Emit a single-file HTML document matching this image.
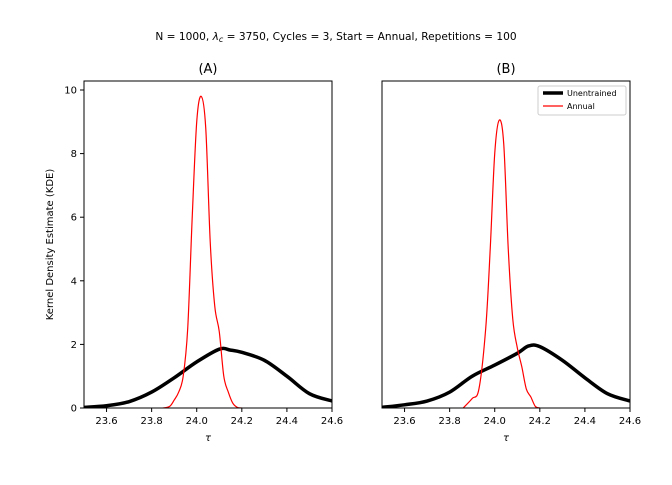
<!DOCTYPE html>
<html><head><meta charset="utf-8"><style>
body{margin:0;background:#fff;}
svg text{font-family:"DejaVu Sans","Liberation Sans",sans-serif;fill:#000;}
</style></head><body>
<svg id="chart" width="672" height="480" xmlns="http://www.w3.org/2000/svg">
<text x="336" y="40" font-size="10.6" text-anchor="middle">N = 1000, <tspan font-style="italic">λ</tspan><tspan font-size="8" dy="2" font-style="italic">c</tspan><tspan dy="-2"> = 3750, Cycles = 3, Start = Annual, Repetitions = 100</tspan></text>
<g id="plots"></g>
</svg>
<script>
const xTicks=[23.6,23.8,24.0,24.2,24.4,24.6];
const yTicks=[0,2,4,6,8,10];
const redAx=[23.85,23.88,23.9,23.92,23.94,23.96,23.98,24.0,24.02,24.04,24.06,24.08,24.1,24.12,24.14,24.16,24.18,24.2];
const redAy=[0,0.05,0.25,0.5,1.0,2.5,6.0,9.0,9.8,8.8,5.2,3.2,2.4,1.0,0.5,0.15,0.02,0];
const blkAx=[23.5,23.6,23.7,23.8,23.9,24.0,24.1,24.15,24.2,24.3,24.4,24.5,24.6];
const blkAy=[0.02,0.07,0.2,0.5,0.95,1.45,1.85,1.82,1.75,1.5,1.0,0.45,0.22];
const redBx=[23.86,23.9,23.93,23.96,23.98,24.0,24.02,24.04,24.06,24.08,24.1,24.12,24.14,24.16,24.18,24.2];
const redBy=[0,0.3,0.6,2.5,5.0,8.0,9.05,8.3,5.0,2.8,1.9,1.3,0.6,0.35,0.05,0];
const blkBx=[23.5,23.6,23.7,23.8,23.9,24.0,24.1,24.15,24.2,24.3,24.4,24.5,24.6];
const blkBy=[0.02,0.1,0.22,0.5,1.0,1.35,1.72,1.95,1.93,1.5,0.95,0.45,0.22];
const NS="http://www.w3.org/2000/svg";
const g=document.getElementById('plots');
function mk(t,a,p){const e=document.createElementNS(NS,t);for(const k in a)e.setAttribute(k,a[k]);(p||g).appendChild(e);return e;}
const topY=81,bot=408,xmin=23.5,xmax=24.6,ymax=(408-81)/31.8;
function smooth(pts){let d='M'+pts[0][0]+','+pts[0][1];for(let i=0;i<pts.length-1;i++){const p0=pts[Math.max(0,i-1)],p1=pts[i],p2=pts[i+1],p3=pts[Math.min(pts.length-1,i+2)];d+=' C'+(p1[0]+(p2[0]-p0[0])/6)+','+(p1[1]+(p2[1]-p0[1])/6)+' '+(p2[0]-(p3[0]-p1[0])/6)+','+(p2[1]-(p3[1]-p1[1])/6)+' '+p2[0]+','+p2[1];}return d;}
function panel(left,title,bx,by,rx,ry,showY,label){
  const w=248;
  const sx=v=>left+(v-xmin)/(xmax-xmin)*w;
  const sy=v=>bot-v/ymax*(bot-topY);
  const pg=mk('g',{});
  
  
  const cp=mk('clipPath',{id:'cp'+label},pg);mk('rect',{x:left,y:topY,width:w,height:bot-topY},cp);
  const t=mk('text',{x:left+w/2,y:73,'font-size':13,'text-anchor':'middle'},pg);t.textContent=title;
  
  
  const b=mk('path',{d:smooth(bx.map((x,i)=>[sx(x),sy(by[i])])),fill:'none',stroke:'#000','stroke-width':3.5,'clip-path':'url(#cp'+label+')'},pg);
  
  
  const r=mk('path',{d:smooth(rx.map((x,i)=>[sx(x),sy(ry[i])])),fill:'none',stroke:'#f00','stroke-width':1.2,'clip-path':'url(#cp'+label+')'},pg);
  
  
  mk('rect',{x:left,y:topY,width:w,height:bot-topY,fill:'none',stroke:'#000','stroke-width':1},pg);
  xTicks.forEach(v=>{const x=sx(v);mk('line',{x1:x,x2:x,y1:bot,y2:bot+4,stroke:'#000'},pg);
    const tt=mk('text',{x:x,y:bot+16,'font-size':10,'text-anchor':'middle'},pg);tt.textContent=v.toFixed(1);
    
    });
  mk('text',{x:left+w/2,y:441,'font-size':10,'text-anchor':'middle','font-style':'italic'},pg).textContent='τ';
  if(showY){yTicks.forEach(v=>{const y=sy(v);mk('line',{x1:left-4,x2:left,y1:y,y2:y,stroke:'#000'},pg);
    const tt=mk('text',{x:left-7,y:y+3.5,'font-size':10,'text-anchor':'end'},pg);tt.textContent=v;
    
    });
    const yl=mk('text',{x:0,y:0,'font-size':10,'text-anchor':'middle',transform:'translate(53,'+((topY+bot)/2)+') rotate(-90)'},pg);yl.textContent='Kernel Density Estimate (KDE)';
    
    }
}
panel(84,'(A)',blkAx,blkAy,redAx,redAy,true,'a');
panel(382,'(B)',blkBx,blkBy,redBx,redBy,false,'b');
const lg=mk('g',{});


mk('rect',{x:538,y:86,width:88,height:29,rx:2,fill:'#fff',stroke:'#ccc'},lg);
mk('line',{x1:543,x2:563,y1:93,y2:93,stroke:'#000','stroke-width':3.5},lg);
mk('text',{x:567,y:96,'font-size':8},lg).textContent='Unentrained';
mk('line',{x1:543,x2:563,y1:106,y2:106,stroke:'#f00','stroke-width':1.2},lg);
mk('text',{x:567,y:109,'font-size':8},lg).textContent='Annual';
</script>
</body></html>
